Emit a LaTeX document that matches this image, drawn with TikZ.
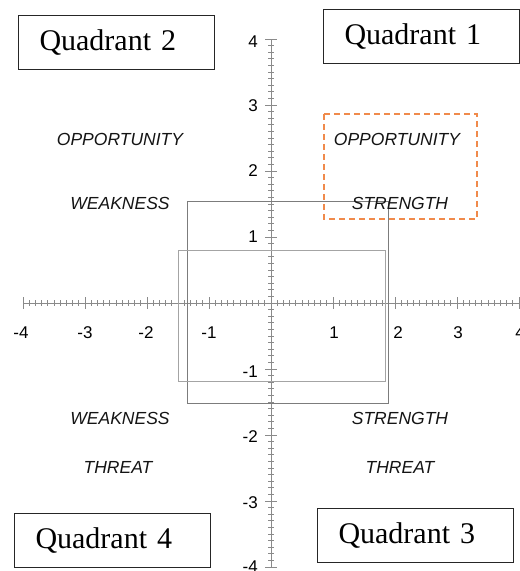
\documentclass[tikz,border=0pt]{standalone}
\usepackage{fontspec}
\setmainfont{Liberation Serif}
\newfontfamily\arialfont{Liberation Sans}
\definecolor{axisgray}{HTML}{8A8A8A}
\definecolor{framegray}{HTML}{7C7C7C}
\definecolor{framelight}{HTML}{A4A4A4}
\definecolor{swotorange}{HTML}{F08A4B}
\begin{document}
\begin{tikzpicture}[x=1pt,y=-1pt,
  axisline/.style={draw=axisgray, line width=0.9pt},
  tickmark/.style={draw=axisgray, line width=0.7pt},
  ticklabel/.style={inner sep=0pt, font=\arialfont\fontsize{17}{20}\selectfont},
  swotlabel/.style={inner sep=0pt, font=\arialfont\itshape\fontsize{17.5}{20}\selectfont, text=black!92},
  quadbox/.style={draw=black!85, line width=1pt, anchor=north west, align=left,
    inner xsep=21pt, inner ysep=0pt, text width=154pt, minimum height=54pt,
    font=\fontsize{30}{34}\selectfont},
  framebox/.style={draw=framegray, line width=1pt},
  framelightbox/.style={draw=framelight, line width=1pt},
  focusbox/.style={draw=swotorange, line width=2pt, dash pattern=on 6pt off 4pt}]
\useasboundingbox (0,0) rectangle (520,571);

% quadrant titles
\node[quadbox] (q1) at (323,9)   {Quadrant 1};
\node[quadbox] (q2) at (18,15)   {Quadrant 2};
\node[quadbox] (q4) at (14,513)  {Quadrant 4};
\node[quadbox] (q3) at (317,508) {Quadrant 3};

% axes: horizontal unit 62, vertical unit 66, origin at (271,303)
\draw[axisline] (23,303) -- (519,303);
\draw[axisline] (271,39) -- (271,567);
\foreach \i in {-40,...,40} {
  \draw[tickmark] ({271+6.2*\i},300) -- ({271+6.2*\i},306);
  \draw[tickmark] (268,{303-6.6*\i}) -- (274,{303-6.6*\i});
}
\foreach \i in {-4,...,4} {
  \draw[tickmark] ({271+62*\i},297) -- ({271+62*\i},309);
  \draw[tickmark] (265,{303-66*\i}) -- (277,{303-66*\i});
}

% axis numbers (the outermost ones run off the page edge)
\foreach \v/\x in {-4/21,-3/85,-2/146,-1/209,1/334,2/398,3/458,4/520}
  \node[ticklabel] (xl\v) at (\x,333) {\v};
\foreach \v/\y in {4/42,3/106,2/171,1/237,-1/372,-2/437,-3/503,-4/567}
  \node[ticklabel, anchor=east] (yl\v) at (258,\y) {\v};

% regions of interest
\draw[framebox] (187,201) rectangle (388,403);
\draw[framelightbox] (178,250) rectangle (385,381);
\draw[focusbox] (324,114) rectangle (477,219);

% SWOT words
\node[swotlabel] (oppL) at (120,139) {OPPORTUNITY};
\node[swotlabel] (weakU) at (120,203) {WEAKNESS};
\node[swotlabel] (oppR) at (397,139) {OPPORTUNITY};
\node[swotlabel] (strU) at (400,203) {STRENGTH};
\node[swotlabel] (weakD) at (120,418) {WEAKNESS};
\node[swotlabel] (thrL) at (118,467) {THREAT};
\node[swotlabel] (strD) at (400,418) {STRENGTH};
\node[swotlabel] (thrR) at (400,467) {THREAT};
\end{tikzpicture}
\end{document}
